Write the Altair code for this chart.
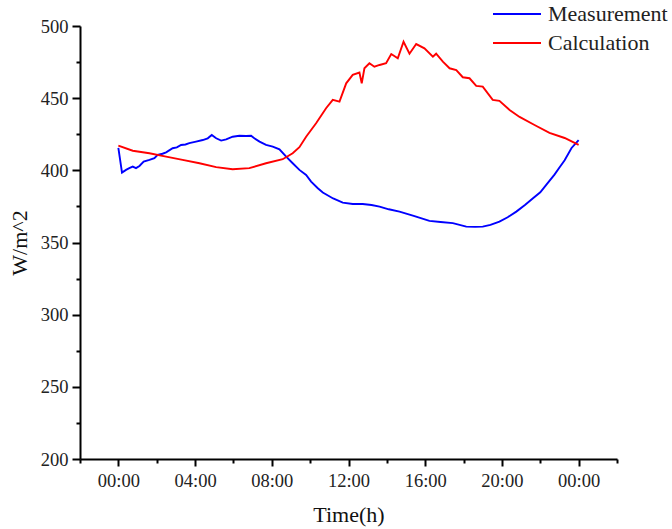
import altair as alt
import pandas as pd

# Daily profile of the two series (hour of day, W/m^2)
meas_hours = [0.0, 0.19, 0.40, 0.57, 0.75, 0.92, 1.10, 1.32, 1.62, 1.88, 2.05, 2.30, 2.49,
              2.83, 3.05, 3.27, 3.50, 3.70, 4.05, 4.40, 4.66, 4.87, 5.10, 5.36, 5.62, 5.96,
              6.31, 6.66, 6.92, 7.09, 7.36, 7.70, 8.05, 8.40, 8.75, 9.09, 9.44, 9.79, 10.05,
              10.40, 10.66, 11.20, 11.70, 12.22, 12.74, 13.20, 13.62, 14.10, 14.66, 15.40,
              16.22, 16.80, 17.44, 18.14, 18.60, 19.00, 19.40, 19.87, 20.30, 20.75, 21.20,
              21.62, 22.00, 22.31, 22.74, 23.00, 23.27, 23.63, 24.0]
meas_values = [415.5, 398.4, 400.3, 401.5, 402.6, 401.5, 403.0, 406.0, 407.2, 408.4, 410.7,
               411.5, 412.5, 415.3, 415.9, 417.6, 417.9, 418.8, 419.9, 421.0, 422.2, 424.5,
               422.2, 420.6, 421.5, 423.3, 424.0, 423.8, 424.0, 422.2, 419.9, 417.6, 416.4,
               414.6, 409.5, 404.9, 400.3, 396.8, 392.2, 387.6, 384.6, 380.5, 377.6, 376.7,
               376.7, 376.0, 374.9, 373.0, 371.4, 368.5, 365.0, 364.2, 363.4, 361.0, 360.8,
               361.0, 362.2, 364.5, 367.5, 371.4, 376.0, 380.7, 384.8, 389.9, 397.0, 402.0,
               407.0, 415.5, 421.0]

calc_hours = [0.0, 0.75, 1.62, 2.49, 3.35, 4.23, 5.10, 5.96, 6.83, 7.70, 8.57, 9.09, 9.44,
              9.79, 10.31, 10.83, 11.18, 11.53, 11.88, 12.22, 12.57, 12.69, 12.83, 13.09,
              13.35, 13.62, 13.96, 14.23, 14.57, 14.87, 15.18, 15.53, 15.96, 16.40, 16.57,
              16.92, 17.27, 17.62, 17.96, 18.31, 18.66, 19.00, 19.52, 19.87, 20.40, 20.92,
              21.70, 22.48, 23.27, 24.0]
calc_values = [417.1, 413.6, 411.8, 409.5, 407.2, 404.9, 402.2, 400.8, 401.5, 404.9, 407.7,
               411.8, 416.0, 423.3, 432.6, 443.0, 448.8, 447.6, 460.3, 466.1, 467.7, 460.3,
               470.7, 474.2, 471.8, 473.0, 474.2, 480.6, 477.6, 489.1, 480.8, 487.5, 484.5,
               478.7, 480.8, 475.3, 470.7, 469.5, 464.5, 463.8, 458.5, 458.0, 448.8, 448.1,
               441.8, 437.0, 431.4, 426.0, 422.4, 417.6]

series_names = ["Measurement", "Calculation"]
series_colors = ["#0000ff", "#ff0000"]

major_x = [0, 4, 8, 12, 16, 20, 24]
minor_x = [-2, 2, 6, 10, 14, 18, 22, 26]
major_y = [200, 250, 300, 350, 400, 450, 500]
minor_y = [225, 275, 325, 375, 425, 475]

df = pd.concat([
    pd.DataFrame({"hour": meas_hours, "value": meas_values, "series": series_names[0]}),
    pd.DataFrame({"hour": calc_hours, "value": calc_values, "series": series_names[1]}),
])

FONT = "Liberation Serif"
x_scale = alt.Scale(domain=[-2, 26], nice=False, zero=False)
y_scale = alt.Scale(domain=[200, 500], nice=False, zero=False)

hour_label = "(datum.value % 24 < 10 ? '0' : '') + (datum.value % 24) + ':00'"

# Wide horizontal legend stroke drawn as a custom path (twice the symbol box width)
legend_stroke = "M-2,0H2"

lines = alt.Chart(df).mark_line(strokeWidth=1.9).encode(
    x=alt.X("hour:Q", scale=x_scale,
            axis=alt.Axis(values=major_x, labelExpr=hour_label, tickSize=7,
                          title="Time(h)", orient="bottom", titlePadding=15,
                          labelPadding=5)),
    y=alt.Y("value:Q", scale=y_scale,
            axis=alt.Axis(values=major_y, tickSize=8, title="W/m^2", orient="left",
                          titlePadding=9, labelPadding=4)),
    color=alt.Color("series:N",
                    scale=alt.Scale(domain=series_names, range=series_colors),
                    sort=series_names,
                    legend=alt.Legend(title=None, orient="none", legendX=424, legendY=-25,
                                      symbolType=legend_stroke, symbolSize=576,
                                      symbolStrokeWidth=2, labelFont=FONT,
                                      labelFontSize=22, labelColor="#222222",
                                      labelOffset=18, rowPadding=5, padding=0,
                                      labelLimit=0)),
)

# Minor ticks on both axes, drawn as separate unlabeled axes on the same scales
minor = alt.Chart(df).mark_point(opacity=0).encode(
    x=alt.X("hour:Q", scale=x_scale,
            axis=alt.Axis(values=minor_x, labels=False, domain=False, tickSize=4,
                          title="", orient="bottom")),
    y=alt.Y("value:Q", scale=y_scale,
            axis=alt.Axis(values=minor_y, labels=False, domain=False, tickSize=4,
                          title="", orient="left")),
)

chart = (
    alt.layer(lines, minor)
    .resolve_axis(x="independent", y="independent")
    .properties(
        width=537, height=433,
        padding={"left": 80, "top": 26, "right": 55, "bottom": 70},
        autosize=alt.AutoSizeParams(type="none"),
    )
    .configure_view(stroke=None)
    .configure_axis(
        grid=False, domainColor="#000000", domainWidth=2, tickColor="#000000",
        tickWidth=2, labelFont=FONT, labelFontSize=18.5, labelColor="#222222",
        titleFont=FONT, titleFontSize=22, titleFontWeight="normal",
        titleColor="#111111",
    )
)

chart.save("out.html", embed_options={"renderer": "svg", "actions": False})
